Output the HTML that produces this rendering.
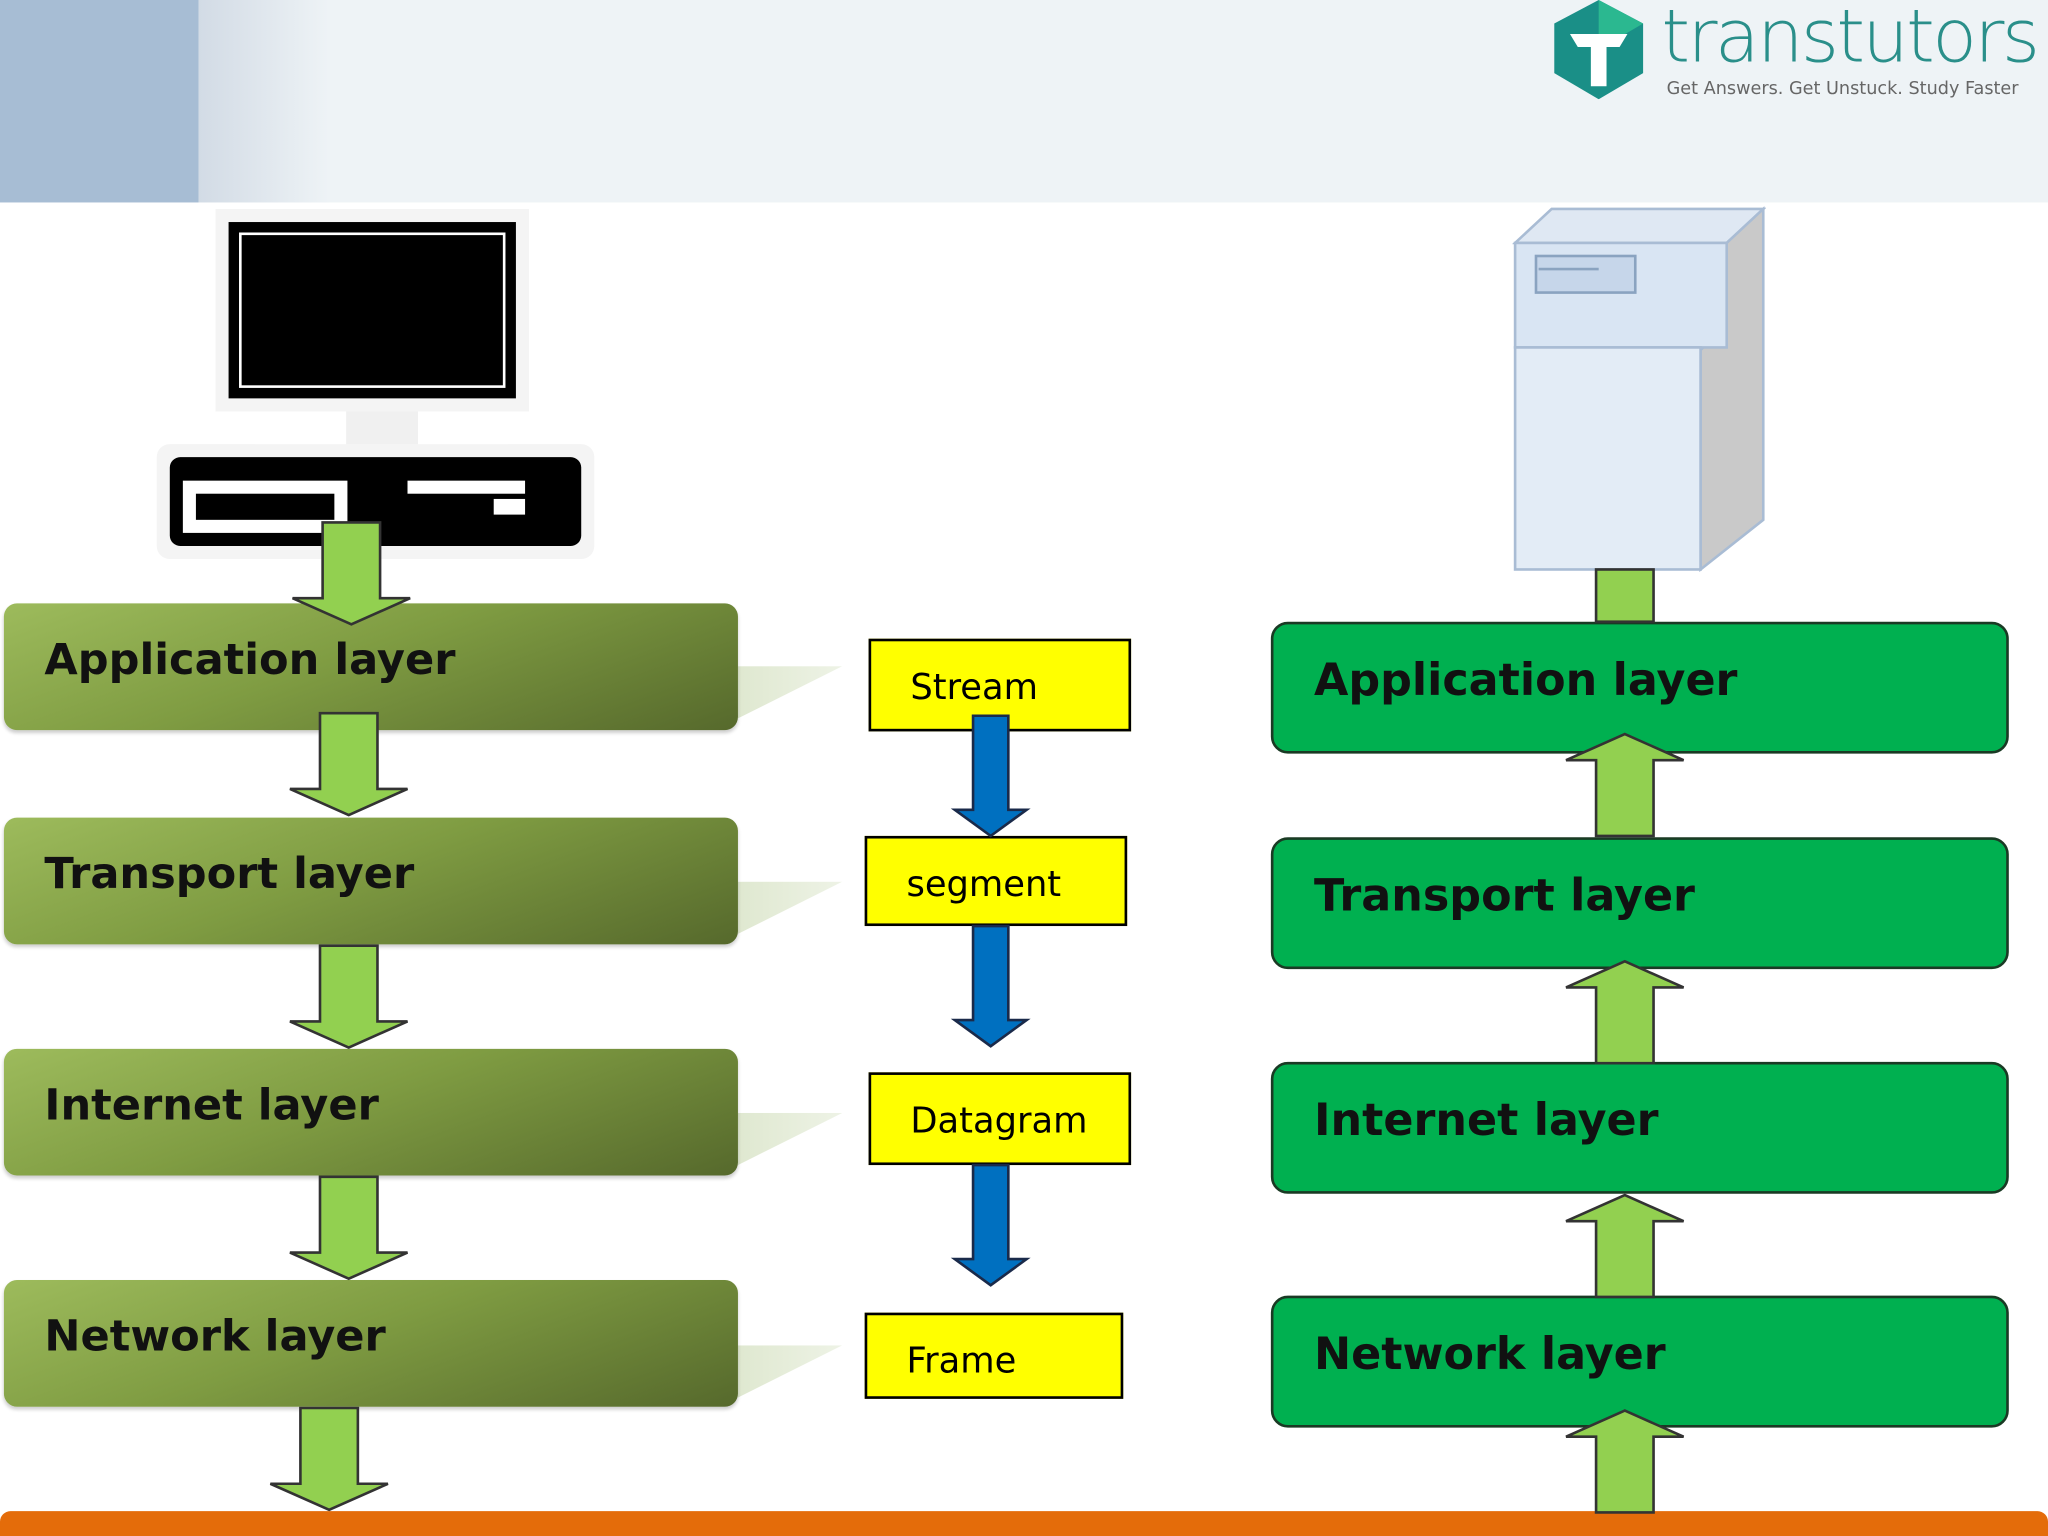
<!DOCTYPE html>
<html><head><meta charset="utf-8"><style>
html,body{margin:0;padding:0;width:2048px;height:1536px;overflow:hidden;background:#fff}
#w{position:absolute;left:0;top:0;width:1568px;height:1176px;transform:scale(1.306122);transform-origin:0 0;font-family:"DejaVu Sans","Liberation Sans",sans-serif}
.a{position:absolute}
.lb{position:absolute;left:3px;width:562px;height:97px;border-radius:10px;background:linear-gradient(160deg,#9dbb5c 0%,#7f9c42 45%,#56692c 100%);box-shadow:0 2px 3px rgba(0,0,0,.2)}
.lb span,.rb span{position:absolute;left:31px;top:23px;font-weight:bold;font-size:33px;color:#111}
.sh{position:absolute;left:565px;width:80px;height:40px;background:linear-gradient(90deg,#dfe8d0,#eef3e6);clip-path:polygon(0 0,100% 0,0 100%)}
.yb{position:absolute;background:#ffff00;border:2px solid #000;box-sizing:border-box;font-size:27px;color:#000}
.yb span{position:absolute;top:20px}
.rb{position:absolute;left:973px;width:565px;height:101px;border-radius:13px;background:#00b050;border:2px solid #1a3a24;box-sizing:border-box}
.rb span{left:31px;top:23px;font-size:34px}
</style></head><body><div id="w">
<div class="a" style="left:0;top:0;width:1568px;height:155px;background:#eef3f6"></div>
<div class="a" style="left:0;top:0;width:152px;height:155px;background:#a7bdd4"></div>
<div class="a" style="left:152px;top:0;width:100px;height:155px;background:linear-gradient(90deg,#d2dbe5,#eef3f6)"></div>
<svg class="a" style="left:1188px;top:0" width="72" height="76" viewBox="0 0 72 76"><polygon points="36,0 70,18 70,56 36,76 2,56 2,18" fill="#1a8f87"/><polygon points="36,0 70,18 36,38" fill="#2bb890"/><path d="M14 26 L58 26 L52 36 L42 36 L42 66 L30 66 L30 36 L20 36 Z" fill="#fff"/></svg>
<div class="a" style="left:1272px;top:-4px;font-family:'DejaVu Sans',sans-serif;font-weight:200;font-size:56px;color:#2a8f8a;letter-spacing:-2px">transtutors</div>
<div class="a" style="left:1276px;top:60px;font-size:13.5px;color:#666">Get Answers. Get Unstuck. Study Faster</div>

<div class="a" style="left:165px;top:160px;width:240px;height:155px;background:#f4f4f4"></div>
<div class="a" style="left:175px;top:170px;width:220px;height:135px;background:#000"></div>
<div class="a" style="left:183px;top:178px;width:204px;height:119px;border:2px solid #fff;box-sizing:border-box;background:#000"></div>
<div class="a" style="left:265px;top:315px;width:55px;height:28px;background:#f0f0f0"></div>
<div class="a" style="left:120px;top:340px;width:335px;height:88px;background:#f4f4f4;border-radius:10px"></div>
<div class="a" style="left:130px;top:350px;width:315px;height:68px;background:#000;border-radius:8px"></div>
<div class="a" style="left:140px;top:368px;width:126px;height:40px;background:#fff"></div>
<div class="a" style="left:150px;top:378px;width:106px;height:20px;background:#000"></div>
<div class="a" style="left:312px;top:368px;width:90px;height:10px;background:#fff"></div>
<div class="a" style="left:378px;top:382px;width:24px;height:12px;background:#fff"></div>

<div class="a" style="left:1158px;top:158px;width:194px;height:280px">
<svg width="194" height="280"><polygon points="2,28 30,2 192,2 164,28" fill="#dfe8f3" stroke="#a9bcd4" stroke-width="2"/><polygon points="164,28 192,2 192,240 144,278 144,110 164,90" fill="#c9c9c9" stroke="#a9bcd4" stroke-width="2"/><rect x="2" y="28" width="162" height="80" fill="#d9e5f3" stroke="#a9bcd4" stroke-width="2"/><rect x="2" y="108" width="142" height="170" fill="#e3ecf6" stroke="#a9bcd4" stroke-width="2"/><rect x="18" y="38" width="76" height="28" fill="#c6d6ea" stroke="#8aa3c0" stroke-width="2"/><line x1="20" y1="48" x2="66" y2="48" stroke="#8aa3c0" stroke-width="2"/></svg></div>

<div class="sh" style="top:510px"></div><div class="sh" style="top:675px"></div><div class="sh" style="top:852px"></div><div class="sh" style="top:1030px"></div>
<div class="lb" style="top:462px"><span>Application layer</span></div>
<div class="lb" style="top:626px"><span>Transport layer</span></div>
<div class="lb" style="top:803px"><span>Internet layer</span></div>
<div class="lb" style="top:980px"><span>Network layer</span></div>

<div class="rb" style="top:476px"><span>Application layer</span></div>
<div class="rb" style="top:641px"><span>Transport layer</span></div>
<div class="rb" style="top:813px"><span>Internet layer</span></div>
<div class="rb" style="top:992px"><span>Network layer</span></div>

<div class="yb" style="left:665px;top:489px;width:201px;height:71px"><span style="left:30px">Stream</span></div>
<div class="yb" style="left:662px;top:640px;width:201px;height:69px"><span style="left:30px">segment</span></div>
<div class="yb" style="left:665px;top:821px;width:201px;height:71px"><span style="left:30px">Datagram</span></div>
<div class="yb" style="left:662px;top:1005px;width:198px;height:66px"><span style="left:30px">Frame</span></div>

<div class="a" style="left:0;top:1157px;width:1568px;height:19px;background:#e46c0a;border-radius:8px 8px 0 0"></div>

<svg class="a" style="left:0;top:0" width="1568" height="1176">
<defs><g id="dn"><polygon points="0,0 44,0 44,58 67,58 22,78 -23,58 0,58" fill="#92d050" stroke="#333" stroke-width="2"/></g>
<g id="up"><polygon points="0,78 44,78 44,20 67,20 22,0 -23,20 0,20" fill="#92d050" stroke="#333" stroke-width="2"/></g>
<g id="bd"><polygon points="0,0 27,0 27,72 41,72 13.5,92 -14,72 0,72" fill="#0070c0" stroke="#1a2a4a" stroke-width="2"/></g></defs>
<use href="#dn" x="247" y="400"/>
<use href="#dn" x="245" y="546"/>
<use href="#dn" x="245" y="724"/>
<use href="#dn" x="245" y="901"/>
<use href="#dn" x="230" y="1078"/>
<use href="#bd" x="745" y="548"/>
<use href="#bd" x="745" y="709"/>
<use href="#bd" x="745" y="892"/>
<use href="#up" x="1222" y="562"/>
<use href="#up" x="1222" y="736"/>
<use href="#up" x="1222" y="915"/>
<use href="#up" x="1222" y="1080"/>
<rect x="1222" y="436" width="44" height="40" fill="#92d050" stroke="#333" stroke-width="2"/>
</svg>
</div></body></html>
